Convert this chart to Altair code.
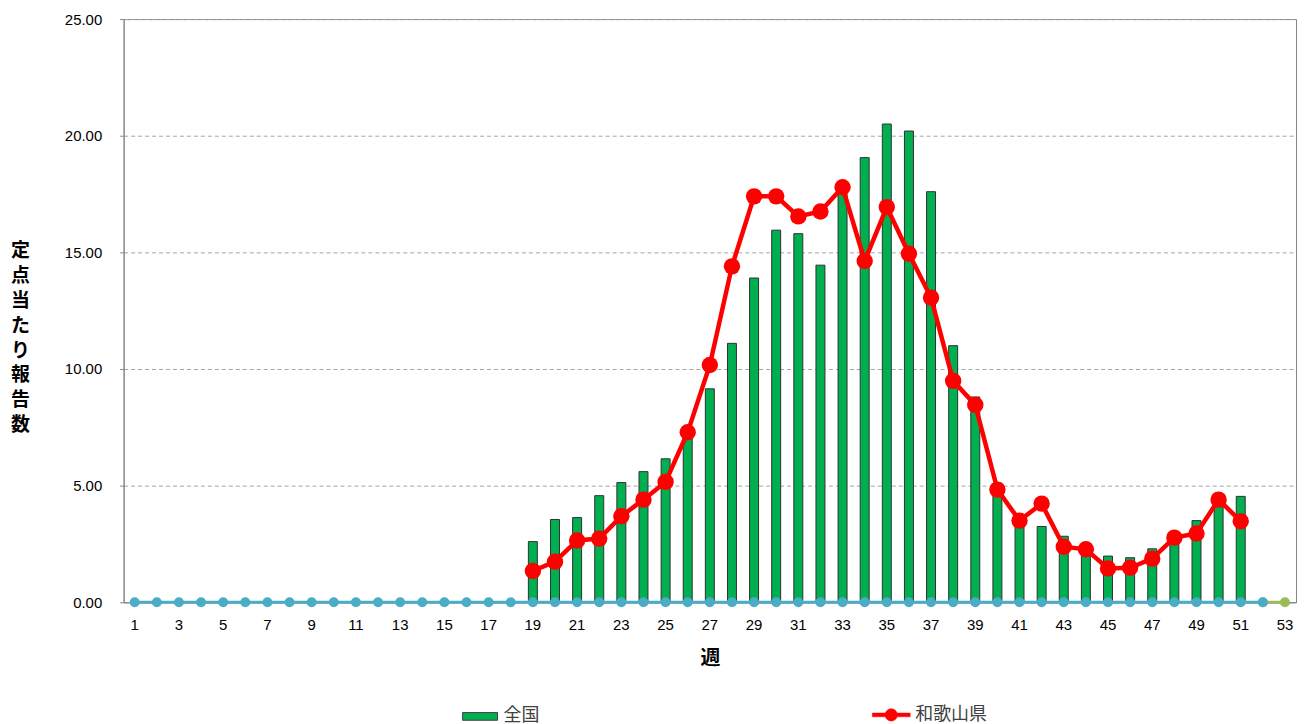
import altair as alt
import pandas as pd

weeks_all = list(range(1, 54))
odd_weeks = list(range(1, 54, 2))

bar_weeks = list(range(19, 52))
national = [2.60, 3.55, 3.63, 4.57, 5.13, 5.60, 6.15, 7.15, 9.15, 11.10, 13.90,
            15.95, 15.80, 14.45, 17.60, 19.06, 20.50, 20.20, 17.60, 11.00, 8.80,
            5.10, 3.65, 3.25, 2.83, 2.40, 1.98, 1.91, 2.29, 2.80, 3.50, 4.30, 4.54]
wakayama = [1.34, 1.74, 2.65, 2.73, 3.69, 4.40, 5.16, 7.29, 10.17, 14.40, 17.40,
            17.40, 16.54, 16.75, 17.79, 14.63, 16.94, 14.94, 13.06, 9.49, 8.46,
            4.83, 3.50, 4.23, 2.38, 2.27, 1.45, 1.48, 1.87, 2.77, 2.95, 4.40, 3.47]

zero_weeks = list(range(1, 53))
zero_vals = [0.0, 0.0, 0.0, 0.0, 0.0, 0.0, 0.0, 0.0, 0.0, 0.0, 0.0, 0.0, 0.0,
             0.0, 0.0, 0.0, 0.0, 0.0, 0.0, 0.0, 0.0, 0.0, 0.0, 0.0, 0.0, 0.0,
             0.0, 0.0, 0.0, 0.0, 0.0, 0.0, 0.0, 0.0, 0.0, 0.0, 0.0, 0.0, 0.0,
             0.0, 0.0, 0.0, 0.0, 0.0, 0.0, 0.0, 0.0, 0.0, 0.0, 0.0, 0.0, 0.0]
green_weeks = [52, 53]
green_vals = [0.0, 0.0]

df_main = pd.DataFrame({"week": bar_weeks, "全国": national, "和歌山県": wakayama,
                        "s1": ["全国"] * len(bar_weeks), "s2": ["和歌山県"] * len(bar_weeks)})
df_zero = pd.DataFrame({"week": zero_weeks, "v": zero_vals})
df_green = pd.DataFrame({"week": green_weeks, "v": green_vals})

FONT = "Liberation Sans"
JP = "Noto Sans CJK JP"

xscale = alt.Scale(domain=weeks_all, paddingInner=0, paddingOuter=0)
yscale = alt.Scale(domain=[0, 25])

x_enc = alt.X("week:O", scale=xscale,
              axis=alt.Axis(values=odd_weeks, labelAngle=0, ticks=False, title="週",
                            labelFont=FONT, labelFontSize=15, labelColor="#000000",
                            labelPadding=15, domainColor="#868686",
                            titleFont=JP, titleFontSize=20, titleFontWeight="bold",
                            titleColor="#000000", titlePadding=16, grid=False))
y_axis = alt.Axis(values=[0, 5, 10, 15, 20, 25], format=".2f", grid=True,
                  gridDash=[4, 3], gridColor="#A6A6A6", gridWidth=1,
                  tickSize=4, tickColor="#868686", domainColor="#868686",
                  labelFont=FONT, labelFontSize=15, labelColor="#000000",
                  labelPadding=18,
                  title=["定", "点", "当", "た", "り", "報", "告", "数"],
                  titleAngle=0, titleFont=JP, titleFontSize=19, titleFontWeight="bold",
                  titleColor="#000000", titleLineHeight=25,
                  titleAlign="center", titleBaseline="middle",
                  titleX=-104, titleY=232)

bars = alt.Chart(df_main).mark_bar(size=9, stroke="#303030", strokeWidth=1).encode(
    x=x_enc,
    y=alt.Y("全国:Q", scale=yscale, axis=y_axis),
    fill=alt.Fill("s1:N", scale=alt.Scale(domain=["全国"], range=["#00B050"]),
                  legend=alt.Legend(title=None, orient="none", legendX=345, legendY=687,
                                    symbolType="M-1.5,-0.33H1.5V0.33H-1.5Z",
                                    symbolSize=545, symbolStrokeColor="#404040",
                                    symbolStrokeWidth=1, labelFont=JP, labelFontSize=18,
                                    labelColor="#404040", labelOffset=11)),
)

red_line = alt.Chart(df_main).mark_line(strokeWidth=4.5).encode(
    x=alt.X("week:O", scale=xscale),
    y=alt.Y("和歌山県:Q", scale=yscale),
    stroke=alt.Stroke("s2:N", scale=alt.Scale(domain=["和歌山県"], range=["#FF0000"]),
                      legend=alt.Legend(title=None, orient="none", legendX=759, legendY=687,
                                        symbolType="M-1.8,-0.18H1.8V0.18H-1.8Z M0.58,0A0.58,0.58,0,1,1,-0.58,0A0.58,0.58,0,1,1,0.58,0Z",
                                        symbolSize=445, symbolFillColor="#FF0000",
                                        symbolStrokeWidth=0.5, labelFont=JP,
                                        labelFontSize=18, labelColor="#404040",
                                        labelOffset=13)),
)
red_pts = alt.Chart(df_main).mark_point(filled=True, size=270, opacity=1,
                                        color="#FF0000").encode(
    x=alt.X("week:O", scale=xscale),
    y=alt.Y("和歌山県:Q", scale=yscale),
)

green_line = alt.Chart(df_green).mark_line(color="#9BBB59", strokeWidth=3).encode(
    x=alt.X("week:O", scale=xscale), y=alt.Y("v:Q", scale=yscale))
green_pts = alt.Chart(df_green).mark_point(filled=True, size=100, opacity=1,
                                           color="#9BBB59").encode(
    x=alt.X("week:O", scale=xscale), y=alt.Y("v:Q", scale=yscale))

teal_line = alt.Chart(df_zero).mark_line(color="#4BACC6", strokeWidth=3).encode(
    x=alt.X("week:O", scale=xscale), y=alt.Y("v:Q", scale=yscale))
teal_pts = alt.Chart(df_zero).mark_point(filled=True, size=100, opacity=1,
                                         color="#4BACC6").encode(
    x=alt.X("week:O", scale=xscale), y=alt.Y("v:Q", scale=yscale))

chart = alt.layer(bars, red_line, red_pts, green_line, green_pts, teal_line, teal_pts).properties(
    width=1176, height=585,
    autosize=alt.AutoSizeParams(type="none"),
    padding={"left": 116, "top": 10, "right": 10, "bottom": 120},
).resolve_legend(fill="independent", stroke="independent").configure_view(
    stroke="#868686", strokeWidth=1)

chart.save("out.html", embed_options={"renderer": "svg", "actions": False})
